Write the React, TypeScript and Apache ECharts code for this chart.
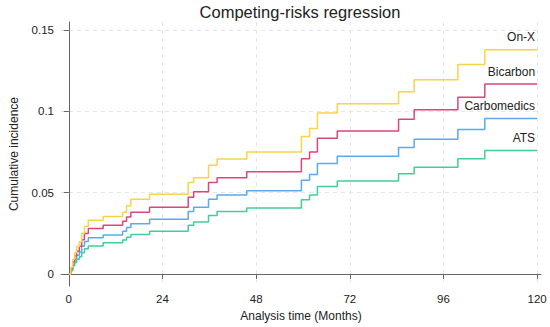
import React, { useEffect, useRef } from "react";
import * as echarts from "echarts";

const months = [0, 0.5, 1, 1.5, 2, 2.7, 3.3, 4, 5, 8.8, 13.8, 14.8, 15.9, 20.7, 30.6, 32, 35.8, 38, 45.6, 59.6, 61.7, 63.7, 68.8, 84.5, 88.5, 99.7, 106.6, 120];
const onX = [0, 0.004, 0.009, 0.013, 0.0168, 0.0198, 0.025, 0.0293, 0.033, 0.0354, 0.038, 0.042, 0.046, 0.049, 0.0562, 0.0592, 0.0669, 0.0707, 0.075, 0.0845, 0.0895, 0.099, 0.1047, 0.1121, 0.1194, 0.1289, 0.138, 0.138];
const bicarbon = [0, 0.0035, 0.0075, 0.011, 0.014, 0.017, 0.021, 0.0248, 0.0279, 0.03, 0.0324, 0.035, 0.038, 0.041, 0.0471, 0.0505, 0.0562, 0.0592, 0.0628, 0.0709, 0.075, 0.0835, 0.0879, 0.0952, 0.101, 0.1087, 0.1168, 0.1168];
const carbomedics = [0, 0.003, 0.006, 0.009, 0.0115, 0.0135, 0.017, 0.02, 0.0222, 0.0239, 0.0263, 0.0285, 0.0309, 0.0336, 0.0384, 0.041, 0.046, 0.0485, 0.0511, 0.0576, 0.0612, 0.0679, 0.0724, 0.0778, 0.0828, 0.0889, 0.0956, 0.0956];
const ats = [0, 0.002, 0.005, 0.007, 0.009, 0.0105, 0.013, 0.0155, 0.0172, 0.0192, 0.0208, 0.0225, 0.0242, 0.0263, 0.0299, 0.0319, 0.036, 0.0384, 0.0406, 0.0457, 0.0485, 0.0538, 0.0572, 0.0616, 0.0657, 0.0709, 0.076, 0.076];

const xTicks = [0, 24, 48, 72, 96, 120];
const yTicks = [0, 0.05, 0.1, 0.15];

const seriesDefs = [
  { name: "ATS", values: ats, color: "#3fcf98" },
  { name: "Carbomedics", values: carbomedics, color: "#5aa9f2" },
  { name: "Bicarbon", values: bicarbon, color: "#d9477a" },
  { name: "On-X", values: onX, color: "#f7d448" },
];

const FONT = "'Liberation Sans', Arial, Helvetica, sans-serif";

export default function App() {
  const ref = useRef<HTMLDivElement>(null);
  useEffect(() => {
    document.body.style.margin = "0";
    if (!ref.current) return;
    const chart = echarts.init(ref.current, null, { renderer: "svg" });
    chart.setOption({
      animation: false,
      backgroundColor: "#ffffff",
      textStyle: { fontFamily: FONT },
      graphic: [
        {
          type: "text",
          x: 300,
          y: 12,
          style: {
            text: "Competing-risks regression",
            align: "center",
            verticalAlign: "middle",
            fontSize: 16.5,
            fill: "#222",
            fontFamily: FONT,
          },
        },
      ],
      grid: { left: 58, right: 9, top: 22, bottom: 37, containLabel: false },
      xAxis: {
        type: "value",
        min: -2,
        max: 121,
        name: "Analysis time (Months)",
        nameLocation: "middle",
        nameGap: 21,
        nameTextStyle: { fontSize: 12, color: "#222", fontFamily: FONT },
        axisLine: { show: true, lineStyle: { color: "#666", width: 1 } },
        axisTick: { show: true, length: 5, customValues: xTicks, lineStyle: { color: "#666" } },
        axisLabel: { customValues: xTicks, fontSize: 11.5, color: "#222", margin: 7, fontFamily: FONT },
        splitLine: { show: true, lineStyle: { color: "#e6e6e6", type: [4, 4], width: 1 } },
      },
      yAxis: {
        type: "value",
        min: -0.0075,
        max: 0.155,
        name: "Cumulative incidence",
        nameLocation: "middle",
        nameGap: 41,
        nameTextStyle: { fontSize: 12, color: "#222", fontFamily: FONT },
        axisLine: { show: true, lineStyle: { color: "#666", width: 1 } },
        axisTick: { show: true, length: 5, customValues: yTicks, lineStyle: { color: "#666" } },
        axisLabel: {
          customValues: yTicks,
          fontSize: 11.5,
          color: "#222",
          margin: 7,
          fontFamily: FONT,
          formatter: (v: number) => String(Math.round(v * 100) / 100),
        },
        splitLine: { show: true, lineStyle: { color: "#e6e6e6", type: [4, 4], width: 1 } },
      },
      series: seriesDefs.map((s) => ({
        type: "line",
        name: s.name,
        step: "end",
        showSymbol: false,
        symbol: "none",
        data: months.map((m, i) => [m, s.values[i]]),
        lineStyle: { color: s.color, width: 1.5 },
        itemStyle: { color: s.color },
        endLabel: {
          show: true,
          formatter: s.name,
          align: "right",
          verticalAlign: "middle",
          distance: 0,
          offset: [-2, -12.5],
          fontSize: 12,
          color: "#222",
          fontFamily: FONT,
        },
      })),
    });
    return () => chart.dispose();
  }, []);
  return <div ref={ref} style={{ width: 550, height: 327 }} />;
}
